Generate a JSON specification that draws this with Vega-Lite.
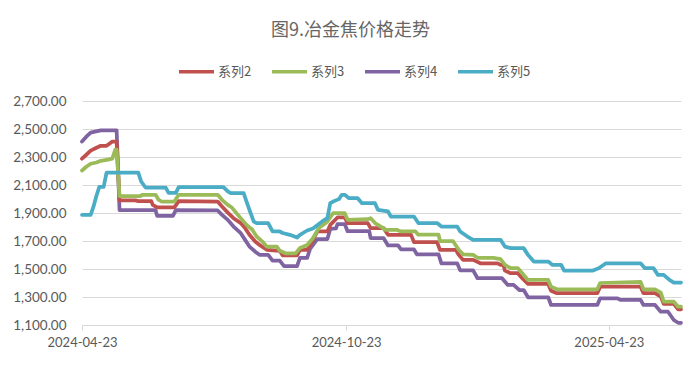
{
 "$schema": "https://vega.github.io/schema/vega-lite/v6.json",
 "width": 599, "height": 224,
 "autosize": {"type": "none"},
 "padding": {"left": 82, "top": 101, "right": 19, "bottom": 41},
 "background": "white",
 "title": {"text": "图9.冶金焦价格走势", "anchor": "middle", "font": "Noto Sans CJK SC", "fontSize": 18, "fontWeight": "normal", "color": "#666666", "dx": -31, "offset": 12},
 "config": {"view": {"stroke": null}},
 "datasets": {
  "p": [
   {"d":"2024-04-23","s":"系列4","v":2410},{"d":"2024-04-26","s":"系列4","v":2445},{"d":"2024-04-29","s":"系列4","v":2474},{"d":"2024-05-02","s":"系列4","v":2481},{"d":"2024-05-06","s":"系列4","v":2490},{"d":"2024-05-17","s":"系列4","v":2490},{"d":"2024-05-19","s":"系列4","v":1920},{"d":"2024-06-13","s":"系列4","v":1920},{"d":"2024-06-14","s":"系列4","v":1880},{"d":"2024-06-25","s":"系列4","v":1880},{"d":"2024-06-27","s":"系列4","v":1920},{"d":"2024-07-26","s":"系列4","v":1918},{"d":"2024-07-29","s":"系列4","v":1887},{"d":"2024-08-02","s":"系列4","v":1851},{"d":"2024-08-06","s":"系列4","v":1803},{"d":"2024-08-11","s":"系列4","v":1756},{"d":"2024-08-14","s":"系列4","v":1708},{"d":"2024-08-17","s":"系列4","v":1660},{"d":"2024-08-21","s":"系列4","v":1624},{"d":"2024-08-24","s":"系列4","v":1601},{"d":"2024-08-30","s":"系列4","v":1601},{"d":"2024-09-02","s":"系列4","v":1560},{"d":"2024-09-07","s":"系列4","v":1560},{"d":"2024-09-10","s":"系列4","v":1520},{"d":"2024-09-19","s":"系列4","v":1520},{"d":"2024-09-21","s":"系列4","v":1580},{"d":"2024-09-26","s":"系列4","v":1580},{"d":"2024-09-28","s":"系列4","v":1643},{"d":"2024-10-03","s":"系列4","v":1714},{"d":"2024-10-10","s":"系列4","v":1714},{"d":"2024-10-12","s":"系列4","v":1786},{"d":"2024-10-16","s":"系列4","v":1790},{"d":"2024-10-17","s":"系列4","v":1821},{"d":"2024-10-22","s":"系列4","v":1821},{"d":"2024-10-24","s":"系列4","v":1770},{"d":"2024-11-08","s":"系列4","v":1770},{"d":"2024-11-09","s":"系列4","v":1720},{"d":"2024-11-18","s":"系列4","v":1720},{"d":"2024-11-21","s":"系列4","v":1668},{"d":"2024-11-28","s":"系列4","v":1668},{"d":"2024-11-30","s":"系列4","v":1640},{"d":"2024-12-09","s":"系列4","v":1640},{"d":"2024-12-11","s":"系列4","v":1605},{"d":"2024-12-26","s":"系列4","v":1605},{"d":"2024-12-28","s":"系列4","v":1540},{"d":"2025-01-08","s":"系列4","v":1540},{"d":"2025-01-10","s":"系列4","v":1490},{"d":"2025-01-19","s":"系列4","v":1490},{"d":"2025-01-22","s":"系列4","v":1434},{"d":"2025-02-08","s":"系列4","v":1434},{"d":"2025-02-12","s":"系列4","v":1386},{"d":"2025-02-16","s":"系列4","v":1386},{"d":"2025-02-20","s":"系列4","v":1350},{"d":"2025-02-23","s":"系列4","v":1350},{"d":"2025-02-26","s":"系列4","v":1298},{"d":"2025-03-12","s":"系列4","v":1298},{"d":"2025-03-14","s":"系列4","v":1243},{"d":"2025-04-15","s":"系列4","v":1243},{"d":"2025-04-17","s":"系列4","v":1291},{"d":"2025-04-29","s":"系列4","v":1291},{"d":"2025-05-01","s":"系列4","v":1279},{"d":"2025-05-15","s":"系列4","v":1279},{"d":"2025-05-17","s":"系列4","v":1243},{"d":"2025-05-25","s":"系列4","v":1243},{"d":"2025-05-29","s":"系列4","v":1195},{"d":"2025-06-03","s":"系列4","v":1195},{"d":"2025-06-07","s":"系列4","v":1136},{"d":"2025-06-10","s":"系列4","v":1116},{"d":"2025-06-12","s":"系列4","v":1116},

   {"d":"2024-04-23","s":"系列2","v":2288},{"d":"2024-04-26","s":"系列2","v":2316},{"d":"2024-04-29","s":"系列2","v":2345},{"d":"2024-05-03","s":"系列2","v":2366},{"d":"2024-05-06","s":"系列2","v":2380},{"d":"2024-05-10","s":"系列2","v":2380},{"d":"2024-05-12","s":"系列2","v":2395},{"d":"2024-05-14","s":"系列2","v":2410},{"d":"2024-05-17","s":"系列2","v":2410},{"d":"2024-05-19","s":"系列2","v":1990},{"d":"2024-05-30","s":"系列2","v":1990},{"d":"2024-06-01","s":"系列2","v":1985},{"d":"2024-06-10","s":"系列2","v":1985},{"d":"2024-06-11","s":"系列2","v":1958},{"d":"2024-06-14","s":"系列2","v":1940},{"d":"2024-06-26","s":"系列2","v":1940},{"d":"2024-06-29","s":"系列2","v":1985},{"d":"2024-07-26","s":"系列2","v":1982},{"d":"2024-07-29","s":"系列2","v":1946},{"d":"2024-08-02","s":"系列2","v":1903},{"d":"2024-08-06","s":"系列2","v":1863},{"d":"2024-08-11","s":"系列2","v":1828},{"d":"2024-08-14","s":"系列2","v":1792},{"d":"2024-08-17","s":"系列2","v":1744},{"d":"2024-08-21","s":"系列2","v":1696},{"d":"2024-08-24","s":"系列2","v":1672},{"d":"2024-08-29","s":"系列2","v":1637},{"d":"2024-09-07","s":"系列2","v":1630},{"d":"2024-09-09","s":"系列2","v":1598},{"d":"2024-09-19","s":"系列2","v":1598},{"d":"2024-09-21","s":"系列2","v":1637},{"d":"2024-09-26","s":"系列2","v":1637},{"d":"2024-09-29","s":"系列2","v":1685},{"d":"2024-10-03","s":"系列2","v":1768},{"d":"2024-10-10","s":"系列2","v":1768},{"d":"2024-10-12","s":"系列2","v":1815},{"d":"2024-10-17","s":"系列2","v":1868},{"d":"2024-10-22","s":"系列2","v":1868},{"d":"2024-10-24","s":"系列2","v":1828},{"d":"2024-11-07","s":"系列2","v":1828},{"d":"2024-11-09","s":"系列2","v":1792},{"d":"2024-11-18","s":"系列2","v":1792},{"d":"2024-11-21","s":"系列2","v":1744},{"d":"2024-12-07","s":"系列2","v":1744},{"d":"2024-12-09","s":"系列2","v":1692},{"d":"2024-12-25","s":"系列2","v":1692},{"d":"2024-12-27","s":"系列2","v":1637},{"d":"2025-01-07","s":"系列2","v":1637},{"d":"2025-01-09","s":"系列2","v":1601},{"d":"2025-01-12","s":"系列2","v":1565},{"d":"2025-01-19","s":"系列2","v":1565},{"d":"2025-01-24","s":"系列2","v":1541},{"d":"2025-02-05","s":"系列2","v":1541},{"d":"2025-02-07","s":"系列2","v":1529},{"d":"2025-02-09","s":"系列2","v":1529},{"d":"2025-02-10","s":"系列2","v":1489},{"d":"2025-02-14","s":"系列2","v":1470},{"d":"2025-02-19","s":"系列2","v":1470},{"d":"2025-02-22","s":"系列2","v":1434},{"d":"2025-02-26","s":"系列2","v":1393},{"d":"2025-03-12","s":"系列2","v":1393},{"d":"2025-03-14","s":"系列2","v":1345},{"d":"2025-03-18","s":"系列2","v":1327},{"d":"2025-04-15","s":"系列2","v":1327},{"d":"2025-04-17","s":"系列2","v":1374},{"d":"2025-05-15","s":"系列2","v":1374},{"d":"2025-05-17","s":"系列2","v":1327},{"d":"2025-05-25","s":"系列2","v":1327},{"d":"2025-05-29","s":"系列2","v":1303},{"d":"2025-05-31","s":"系列2","v":1251},{"d":"2025-06-07","s":"系列2","v":1251},{"d":"2025-06-10","s":"系列2","v":1212},{"d":"2025-06-12","s":"系列2","v":1212},

   {"d":"2024-04-23","s":"系列3","v":2204},{"d":"2024-04-26","s":"系列3","v":2230},{"d":"2024-04-29","s":"系列3","v":2252},{"d":"2024-05-03","s":"系列3","v":2261},{"d":"2024-05-06","s":"系列3","v":2273},{"d":"2024-05-11","s":"系列3","v":2281},{"d":"2024-05-14","s":"系列3","v":2288},{"d":"2024-05-16","s":"系列3","v":2352},{"d":"2024-05-17","s":"系列3","v":2352},{"d":"2024-05-19","s":"系列3","v":2020},{"d":"2024-06-02","s":"系列3","v":2020},{"d":"2024-06-04","s":"系列3","v":2030},{"d":"2024-06-13","s":"系列3","v":2030},{"d":"2024-06-15","s":"系列3","v":1995},{"d":"2024-06-17","s":"系列3","v":1982},{"d":"2024-06-26","s":"系列3","v":1982},{"d":"2024-06-29","s":"系列3","v":2030},{"d":"2024-07-26","s":"系列3","v":2030},{"d":"2024-07-29","s":"系列3","v":1994},{"d":"2024-08-02","s":"系列3","v":1958},{"d":"2024-08-05","s":"系列3","v":1937},{"d":"2024-08-09","s":"系列3","v":1887},{"d":"2024-08-12","s":"系列3","v":1851},{"d":"2024-08-15","s":"系列3","v":1815},{"d":"2024-08-19","s":"系列3","v":1780},{"d":"2024-08-22","s":"系列3","v":1732},{"d":"2024-08-26","s":"系列3","v":1696},{"d":"2024-08-29","s":"系列3","v":1660},{"d":"2024-09-05","s":"系列3","v":1660},{"d":"2024-09-07","s":"系列3","v":1630},{"d":"2024-09-11","s":"系列3","v":1612},{"d":"2024-09-18","s":"系列3","v":1612},{"d":"2024-09-21","s":"系列3","v":1650},{"d":"2024-09-26","s":"系列3","v":1672},{"d":"2024-09-30","s":"系列3","v":1720},{"d":"2024-10-04","s":"系列3","v":1792},{"d":"2024-10-07","s":"系列3","v":1815},{"d":"2024-10-10","s":"系列3","v":1839},{"d":"2024-10-14","s":"系列3","v":1899},{"d":"2024-10-22","s":"系列3","v":1899},{"d":"2024-10-24","s":"系列3","v":1851},{"d":"2024-11-07","s":"系列3","v":1856},{"d":"2024-11-09","s":"系列3","v":1863},{"d":"2024-11-12","s":"系列3","v":1828},{"d":"2024-11-16","s":"系列3","v":1803},{"d":"2024-11-19","s":"系列3","v":1780},{"d":"2024-11-27","s":"系列3","v":1780},{"d":"2024-11-30","s":"系列3","v":1768},{"d":"2024-12-10","s":"系列3","v":1768},{"d":"2024-12-12","s":"系列3","v":1745},{"d":"2024-12-26","s":"系列3","v":1745},{"d":"2024-12-27","s":"系列3","v":1700},{"d":"2025-01-05","s":"系列3","v":1700},{"d":"2025-01-09","s":"系列3","v":1637},{"d":"2025-01-12","s":"系列3","v":1605},{"d":"2025-01-19","s":"系列3","v":1601},{"d":"2025-01-22","s":"系列3","v":1580},{"d":"2025-02-02","s":"系列3","v":1580},{"d":"2025-02-07","s":"系列3","v":1570},{"d":"2025-02-10","s":"系列3","v":1529},{"d":"2025-02-14","s":"系列3","v":1506},{"d":"2025-02-19","s":"系列3","v":1506},{"d":"2025-02-22","s":"系列3","v":1470},{"d":"2025-02-26","s":"系列3","v":1422},{"d":"2025-03-12","s":"系列3","v":1422},{"d":"2025-03-14","s":"系列3","v":1374},{"d":"2025-03-18","s":"系列3","v":1355},{"d":"2025-04-15","s":"系列3","v":1355},{"d":"2025-04-17","s":"系列3","v":1400},{"d":"2025-05-15","s":"系列3","v":1408},{"d":"2025-05-17","s":"系列3","v":1355},{"d":"2025-05-25","s":"系列3","v":1355},{"d":"2025-05-29","s":"系列3","v":1332},{"d":"2025-05-31","s":"系列3","v":1267},{"d":"2025-06-07","s":"系列3","v":1267},{"d":"2025-06-10","s":"系列3","v":1231},{"d":"2025-06-12","s":"系列3","v":1231},

   {"d":"2024-04-23","s":"系列5","v":1887},{"d":"2024-04-29","s":"系列5","v":1887},{"d":"2024-05-01","s":"系列5","v":1947},{"d":"2024-05-03","s":"系列5","v":2023},{"d":"2024-05-05","s":"系列5","v":2087},{"d":"2024-05-08","s":"系列5","v":2087},{"d":"2024-05-10","s":"系列5","v":2188},{"d":"2024-06-01","s":"系列5","v":2188},{"d":"2024-06-03","s":"系列5","v":2125},{"d":"2024-06-06","s":"系列5","v":2082},{"d":"2024-06-20","s":"系列5","v":2082},{"d":"2024-06-22","s":"系列5","v":2044},{"d":"2024-06-27","s":"系列5","v":2044},{"d":"2024-06-29","s":"系列5","v":2085},{"d":"2024-07-30","s":"系列5","v":2085},{"d":"2024-08-02","s":"系列5","v":2054},{"d":"2024-08-04","s":"系列5","v":2042},{"d":"2024-08-13","s":"系列5","v":2042},{"d":"2024-08-15","s":"系列5","v":1982},{"d":"2024-08-17","s":"系列5","v":1923},{"d":"2024-08-20","s":"系列5","v":1839},{"d":"2024-08-22","s":"系列5","v":1828},{"d":"2024-08-30","s":"系列5","v":1828},{"d":"2024-09-02","s":"系列5","v":1768},{"d":"2024-09-07","s":"系列5","v":1768},{"d":"2024-09-09","s":"系列5","v":1757},{"d":"2024-09-14","s":"系列5","v":1744},{"d":"2024-09-19","s":"系列5","v":1725},{"d":"2024-09-21","s":"系列5","v":1744},{"d":"2024-09-26","s":"系列5","v":1775},{"d":"2024-09-30","s":"系列5","v":1790},{"d":"2024-10-05","s":"系列5","v":1828},{"d":"2024-10-08","s":"系列5","v":1851},{"d":"2024-10-10","s":"系列5","v":1863},{"d":"2024-10-12","s":"系列5","v":1970},{"d":"2024-10-14","s":"系列5","v":1982},{"d":"2024-10-18","s":"系列5","v":1999},{"d":"2024-10-20","s":"系列5","v":2030},{"d":"2024-10-22","s":"系列5","v":2030},{"d":"2024-10-25","s":"系列5","v":2006},{"d":"2024-10-31","s":"系列5","v":2006},{"d":"2024-11-03","s":"系列5","v":1970},{"d":"2024-11-12","s":"系列5","v":1970},{"d":"2024-11-14","s":"系列5","v":1923},{"d":"2024-11-21","s":"系列5","v":1911},{"d":"2024-11-23","s":"系列5","v":1875},{"d":"2024-12-09","s":"系列5","v":1875},{"d":"2024-12-12","s":"系列5","v":1828},{"d":"2024-12-25","s":"系列5","v":1828},{"d":"2024-12-28","s":"系列5","v":1803},{"d":"2025-01-08","s":"系列5","v":1803},{"d":"2025-01-10","s":"系列5","v":1768},{"d":"2025-01-15","s":"系列5","v":1732},{"d":"2025-01-19","s":"系列5","v":1708},{"d":"2025-02-07","s":"系列5","v":1708},{"d":"2025-02-10","s":"系列5","v":1660},{"d":"2025-02-14","s":"系列5","v":1649},{"d":"2025-02-23","s":"系列5","v":1649},{"d":"2025-02-26","s":"系列5","v":1601},{"d":"2025-03-02","s":"系列5","v":1553},{"d":"2025-03-12","s":"系列5","v":1553},{"d":"2025-03-15","s":"系列5","v":1529},{"d":"2025-03-21","s":"系列5","v":1529},{"d":"2025-03-23","s":"系列5","v":1489},{"d":"2025-04-12","s":"系列5","v":1489},{"d":"2025-04-16","s":"系列5","v":1505},{"d":"2025-04-21","s":"系列5","v":1541},{"d":"2025-05-15","s":"系列5","v":1541},{"d":"2025-05-18","s":"系列5","v":1506},{"d":"2025-05-24","s":"系列5","v":1506},{"d":"2025-05-27","s":"系列5","v":1458},{"d":"2025-05-31","s":"系列5","v":1458},{"d":"2025-06-04","s":"系列5","v":1422},{"d":"2025-06-07","s":"系列5","v":1403},{"d":"2025-06-12","s":"系列5","v":1403}
  ]
 },
 "data": {"name": "p"},
 "mark": {"type": "line", "strokeWidth": 3.75, "strokeJoin": "round", "strokeCap": "round"},
 "encoding": {
  "x": {"field": "d", "type": "temporal",
   "scale": {"type": "utc", "domain": [{"year": 2024, "month": 4, "date": 23, "utc": true}, {"year": 2025, "month": 6, "date": 12, "utc": true}]},
   "axis": {"title": null, "values": [{"year": 2024, "month": 4, "date": 23, "utc": true}, {"year": 2024, "month": 10, "date": 23, "utc": true}, {"year": 2025, "month": 4, "date": 23, "utc": true}],
    "labelExpr": "utcFormat(datum.value, '%Y-%m-%d')", "labelFont": "Lato", "labelFontSize": 13, "labelColor": "#595959",
    "grid": false, "domainColor": "#D9D9D9", "tickColor": "#D9D9D9", "tickSize": 5, "labelPadding": 6, "labelOverlap": false, "labelFlush": false}},
  "y": {"field": "v", "type": "quantitative",
   "scale": {"domain": [1100, 2700], "nice": false, "zero": false},
   "axis": {"title": null, "values": [1100, 1300, 1500, 1700, 1900, 2100, 2300, 2500, 2700], "format": ",.2f",
    "labelFont": "Lato", "labelFontSize": 13.5, "labelColor": "#595959", "ticks": false, "domain": false,
    "gridColor": "#D9D9D9", "gridWidth": 1, "labelPadding": 16}},
  "color": {"field": "s", "type": "nominal",
   "scale": {"domain": ["系列2", "系列3", "系列4", "系列5"], "range": ["#C0504D", "#9BBB59", "#8064A2", "#4BACC6"]},
   "legend": {"title": null, "orient": "none", "legendX": 95, "legendY": -49, "direction": "horizontal",
    "symbolType": "stroke", "symbolSize": 1225, "symbolStrokeWidth": 3.5, "labelFont": "Noto Sans CJK SC",
    "labelFontSize": 13, "labelColor": "#595959", "labelOffset": 2, "columnPadding": 13}}
 }
}
